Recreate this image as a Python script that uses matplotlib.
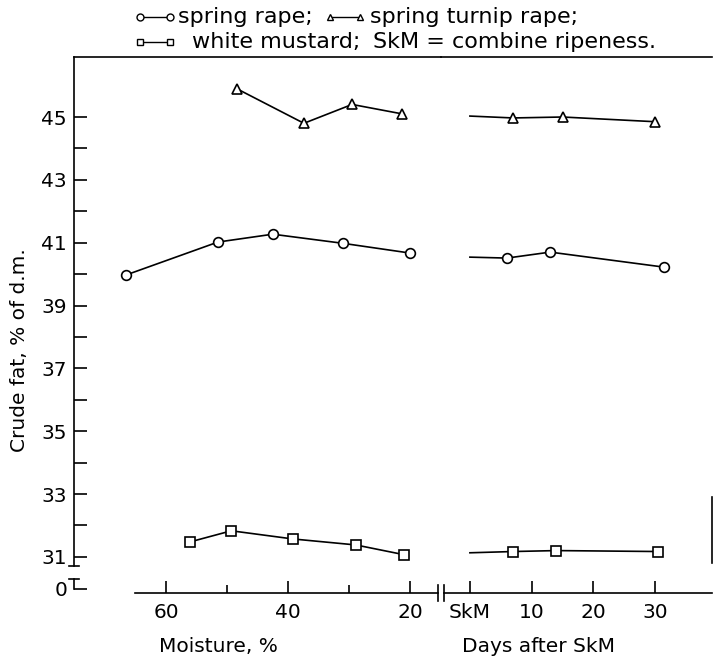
import matplotlib
matplotlib.use('Agg')
import matplotlib.pyplot as plt
from matplotlib.lines import Line2D

# spring rape (circles)
moist_rape = [66.6, 51.5, 42.5, 31.0, 20.0]
fat_rape = [39.97, 41.02, 41.27, 40.98, 40.67]
days_rape = [0, 6.0, 13.0, 31.5]
fat_rape_d = [40.54, 40.51, 40.7, 40.22]

# spring turnip rape (triangles)
moist_turnip = [48.4, 37.4, 29.5, 21.3]
fat_turnip = [45.9, 44.8, 45.4, 45.1]
days_turnip = [0, 7.0, 15.0, 30.0]
fat_turnip_d = [45.03, 44.97, 45.0, 44.85]

# white mustard (squares)
moist_mustard = [56.0, 49.3, 39.2, 28.9, 21.0]
fat_mustard = [31.48, 31.83, 31.57, 31.38, 31.07]
days_mustard = [0, 7.0, 14.0, 30.5]
fat_mustard_d = [31.13, 31.17, 31.2, 31.17]

ytick_major = [31, 33, 35, 37, 39, 41, 43, 45]
ytick_minor = [32, 34, 36, 38, 40, 42, 44]
moist_major = [60, 40, 20]
moist_minor = [50, 30]
days_major = [0, 10, 20, 30]
days_labels = ['SkM', '10', '20', '30']

FS = 14.5
LFS = 16
W, H = 713, 661
fig = plt.figure(figsize=(W / 100, H / 100), dpi=100)


def box(x0, x1, y0, y1):
    return [x0 / W, 1 - y1 / H, (x1 - x0) / W, (y1 - y0) / H]


ax_l = fig.add_axes(box(74, 441, 57, 593))
ax_r = fig.add_axes(box(441, 712, 57, 593), sharey=ax_l)
for ax in (ax_l, ax_r):
    ax.patch.set_alpha(0)

ax_l.set_ylim(29.85, 46.91)
ax_l.set_xlim(75.1, 14.92)
ax_r.set_xlim(-4.68, 39.19)

line_kw = dict(color='black', lw=1.2, mfc='white', mec='black', mew=1.2)

ax_l.plot(moist_rape, fat_rape, marker='o', ms=7, clip_on=False, **line_kw)
ax_l.plot(moist_turnip, fat_turnip, marker='^', ms=7, **line_kw)
ax_l.plot(moist_mustard, fat_mustard, marker='s', ms=6.5, **line_kw)

ax_r.plot(days_rape, fat_rape_d, marker='o', ms=7, markevery=[1, 2, 3], **line_kw)
ax_r.plot(days_turnip, fat_turnip_d, marker='^', ms=7, markevery=[1, 2, 3], **line_kw)
ax_r.plot(days_mustard, fat_mustard_d, marker='s', ms=6.5, markevery=[1, 2, 3], **line_kw)

# spines
ax_l.spines['right'].set_visible(False)
ax_l.spines['left'].set_bounds(30.7, 46.91)
ax_l.spines['bottom'].set_bounds(65.08, 15.4)
ax_r.spines['left'].set_visible(False)
ax_r.spines['bottom'].set_bounds(-4.19, 39.19)
ax_r.spines['right'].set_bounds(30.8, 32.9)
for ax in (ax_l, ax_r):
    for s in ax.spines.values():
        s.set_linewidth(1.2)

# y ticks, with the broken axis down to 0
zero_pos = 29.98
ax_l.set_yticks(ytick_major + [zero_pos])
ax_l.set_yticklabels([str(v) for v in ytick_major] + ['0'], fontsize=FS)
ax_l.set_yticks(ytick_minor, minor=True)
ax_l.tick_params(axis='y', which='both', direction='in', length=9, width=1.2, pad=5)
ytr = ax_l.get_yaxis_transform()
ax_l.plot([-0.014, 0.014], [30.7, 30.7], transform=ytr, color='black', lw=1.2, clip_on=False)
ax_l.plot([0, 0], [zero_pos, 30.3], transform=ytr, color='black', lw=1.2, clip_on=False)
ax_l.plot([-0.014, 0.014], [30.3, 30.3], transform=ytr, color='black', lw=1.2, clip_on=False)
ax_r.tick_params(axis='y', which='both', left=False, labelleft=False)

# x ticks
ax_l.set_xticks(moist_major)
ax_l.set_xticklabels([str(v) for v in moist_major], fontsize=FS)
ax_l.set_xticks(moist_minor, minor=True)
ax_l.tick_params(axis='x', which='major', direction='in', length=9, width=1.2, pad=7)
ax_l.tick_params(axis='x', which='minor', direction='in', length=6, width=1.2)
ax_r.set_xticks(days_major)
ax_r.set_xticklabels(days_labels, fontsize=FS)
ax_r.tick_params(axis='x', direction='in', length=9, width=1.2, pad=7)

# axis break marks
for xp in (438, 444):
    fig.add_artist(Line2D([xp / W, xp / W], [1 - 585 / H, 1 - 601 / H], color='black', lw=1.2))

fig.text(20 / W, 1 - 350 / H, 'Crude fat, % of d.m.', rotation=90, ha='center', va='center', fontsize=FS)
fig.text(218 / W, 1 - 646 / H, 'Moisture, %', ha='center', va='center', fontsize=FS)
fig.text(539 / W, 1 - 646 / H, 'Days after SkM', ha='center', va='center', fontsize=FS)

# legend written out as a caption
def sample(x0, x1, y, marker, ms):
    fig.add_artist(Line2D([x0 / W, x1 / W], [1 - y / H, 1 - y / H], marker=marker, ms=ms,
                          color='black', lw=1.0, mfc='white', mec='black', mew=1.0))

sample(140, 170, 17, 'o', 5)
fig.text(178 / W, 1 - 17 / H, 'spring rape;', ha='left', va='center', fontsize=LFS)
sample(330, 360, 17, '^', 5)
fig.text(370 / W, 1 - 17 / H, 'spring turnip rape;', ha='left', va='center', fontsize=LFS)
sample(140, 170, 42, 's', 5)
fig.text(192 / W, 1 - 42 / H, 'white mustard;', ha='left', va='center', fontsize=LFS)
fig.text(373 / W, 1 - 42 / H, 'SkM = combine ripeness.', ha='left', va='center', fontsize=LFS)

fig.savefig('out.png', dpi=100)
